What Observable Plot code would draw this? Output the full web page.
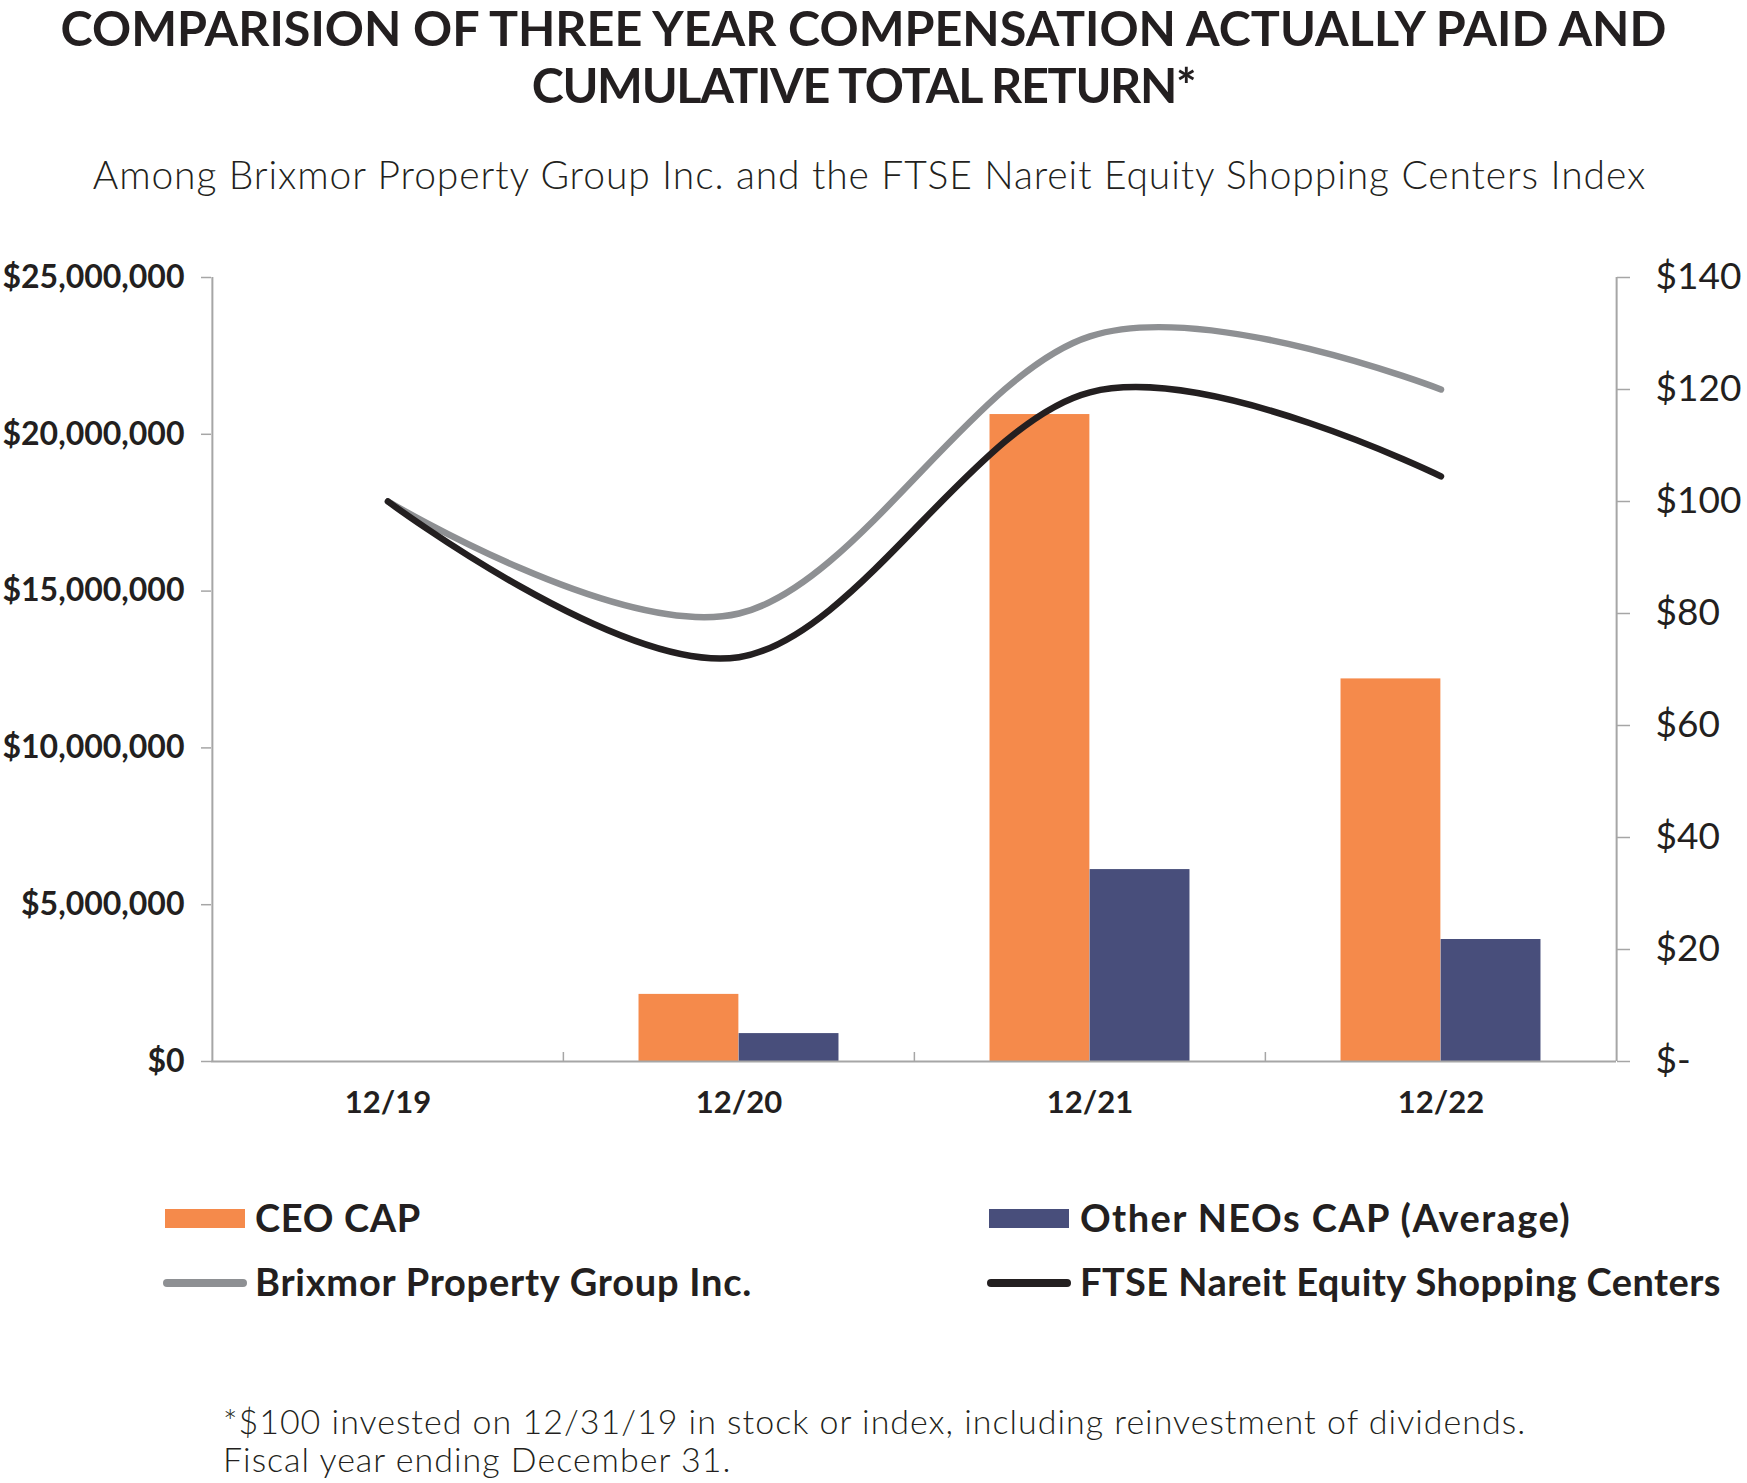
<!DOCTYPE html>
<html>
<head>
<meta charset="utf-8">
<script src="https://cdn.jsdelivr.net/npm/d3@7"></script>
<script src="https://cdn.jsdelivr.net/npm/@observablehq/plot@0.6"></script>
<style>
  html, body { margin: 0; padding: 0; background: #fff; }
  body { width: 1747px; height: 1483px; position: relative; overflow: hidden; font-family: Lato, "Open Sans", sans-serif; color: #231F20; }
  .t { position: absolute; line-height: 1; white-space: nowrap; }
  .center { left: 0; width: 1747px; text-align: center; }
  .title { font-size: 48.5px; font-weight: 700; }
  .subtitle { font-size: 39px; font-weight: 300; letter-spacing: 0.9px; }
  .leg { font-size: 38px; font-weight: 700; }
  .foot { font-size: 34px; font-weight: 300; left: 223px; letter-spacing: 1px; }
  .sw { position: absolute; }
  #chart { position: absolute; left: 0; top: 240px; }
</style>
</head>
<body>
<div class="t center title" style="top:3px; left:-10px;">COMPARISION OF THREE YEAR COMPENSATION ACTUALLY PAID AND</div>
<div class="t center title" style="top:60px; left:-10px; letter-spacing:-1.3px;">CUMULATIVE TOTAL RETURN*</div>
<div class="t center subtitle" style="top:155px; left:-4px;">Among Brixmor Property Group Inc. and the FTSE Nareit Equity Shopping Centers Index</div>
<div id="chart"></div>
<div id="legend"></div>
<div class="t foot" style="top:1404px;">*$100 invested on 12/31/19 in stock or index, including reinvestment of dividends.</div>
<div class="t foot" style="top:1442px;">Fiscal year ending December 31.</div>
<script>
// ---- Data ----
const categories = ["12/19", "12/20", "12/21", "12/22"];
const ceoCap = [0, 2140000, 20630000, 12200000];
const neoCap = [0, 890000, 6120000, 3890000];
const brixmorTSR = [100, 80, 129.5, 120];
const ftseTSR = [100, 72.2, 119.5, 104.5];
const leftTicks = [0, 5000000, 10000000, 15000000, 20000000, 25000000];
const rightTicks = [0, 20, 40, 60, 80, 100, 120, 140];
const seriesNames = ["CEO CAP", "Other NEOs CAP (Average)", "Brixmor Property Group Inc.", "FTSE Nareit Equity Shopping Centers"];
const colors = ["#F58A4B", "#484E7B", "#8E9093", "#231F20"];

// ---- Layout ----
const W = 1747, H = 890, ml = 211, mr = 131, mt = 37, mb = 69;
const bw = (W - ml - mr) / categories.length;
const barW = bw * 0.285;
const leftMax = 25000000, rightMax = 140;
const k = leftMax / rightMax;
const axisGray = "#A6A6A6";

const ceoRows = categories.map((c, i) => ({year: c, value: ceoCap[i]}));
const neoRows = categories.map((c, i) => ({year: c, value: neoCap[i]}));
const brixRows = categories.map((c, i) => ({year: c, value: brixmorTSR[i]}));
const ftseRows = categories.map((c, i) => ({year: c, value: ftseTSR[i]}));

const fmtLeft = d3.format(",");

const chart = Plot.plot({
  width: W, height: H,
  marginLeft: ml, marginRight: mr, marginTop: mt, marginBottom: mb,
  style: {fontFamily: "Lato, 'Open Sans', sans-serif", color: "#231F20", background: "transparent", overflow: "visible"},
  x: {type: "band", domain: categories, padding: 0, axis: null},
  y: {domain: [0, leftMax], axis: null},
  marks: [
    Plot.barY(ceoRows, {x: "year", y: "value", fill: colors[0], insetLeft: bw / 2 - barW, insetRight: bw / 2}),
    Plot.barY(neoRows, {x: "year", y: "value", fill: colors[1], insetLeft: bw / 2, insetRight: bw / 2 - barW}),
    Plot.ruleY([0], {stroke: axisGray, strokeWidth: 2}),
    Plot.ruleX([categories[0]], {y1: 0, y2: leftMax, dx: -bw / 2, stroke: axisGray, strokeWidth: 2}),
    Plot.ruleX([categories[categories.length - 1]], {y1: 0, y2: leftMax, dx: bw / 2, stroke: axisGray, strokeWidth: 2}),
    Plot.axisX(categories.slice(1), {tickSize: -9, tickFormat: () => "", dx: -bw / 2, stroke: axisGray, strokeWidth: 1.5, label: null}),
    Plot.axisX({tickSize: 0, tickPadding: 29, fontSize: 31, fontWeight: 700, fill: "#231F20", label: null}),
    Plot.axisY({anchor: "left", ticks: leftTicks, tickSize: 10, tickPadding: 17, stroke: axisGray, strokeWidth: 1.5,
      tickFormat: d => "$" + fmtLeft(d), fontSize: 32, fontWeight: 700, fill: "#231F20", label: null}),
    Plot.axisY({anchor: "right", ticks: rightTicks.map(v => v * k), tickSize: 13, tickPadding: 26, stroke: axisGray, strokeWidth: 1.5,
      tickFormat: d => { const v = Math.round(d / k); return v === 0 ? "$-" : "$" + v; }, fontSize: 37, fontWeight: 400, fill: "#231F20", label: null}),
    Plot.line(brixRows, {x: "year", y: d => d.value * k, stroke: colors[2], strokeWidth: 6.5, curve: "cardinal", tension: 0, strokeLinecap: "round"}),
    Plot.line(ftseRows, {x: "year", y: d => d.value * k, stroke: colors[3], strokeWidth: 6.5, curve: "cardinal", tension: 0, strokeLinecap: "round"})
  ]
});
document.getElementById("chart").appendChild(chart);

// ---- Legend ----
const legend = document.getElementById("legend");
const legendItems = [
  {name: seriesNames[0], color: colors[0], kind: "rect", sx: 165, tx: 255, row: 0, fit: 166},
  {name: seriesNames[1], color: colors[1], kind: "rect", sx: 989, tx: 1080, row: 0, fit: 491},
  {name: seriesNames[2], color: colors[2], kind: "line", sx: 163, tx: 255, row: 1, fit: 497},
  {name: seriesNames[3], color: colors[3], kind: "line", sx: 987, tx: 1080, row: 1, fit: 641}
];
const rowTop = [1198, 1262];
legendItems.forEach(it => {
  const sw = document.createElement("div");
  sw.className = "sw";
  if (it.kind === "rect") {
    Object.assign(sw.style, {left: it.sx + "px", top: (rowTop[it.row] + 11) + "px", width: "80px", height: "19px", background: it.color});
  } else {
    Object.assign(sw.style, {left: it.sx + "px", top: (rowTop[it.row] + 17) + "px", width: "84px", height: "8px", background: it.color, borderRadius: "4px"});
  }
  legend.appendChild(sw);
  const tx = document.createElement("div");
  tx.className = "t leg";
  tx.textContent = it.name;
  Object.assign(tx.style, {left: it.tx + "px", top: rowTop[it.row] + "px"});
  legend.appendChild(tx);
  const natural = tx.getBoundingClientRect().width;
  const ls = (it.fit - natural) / it.name.length;
  tx.style.letterSpacing = ls.toFixed(2) + "px";
});
</script>
</body>
</html>
